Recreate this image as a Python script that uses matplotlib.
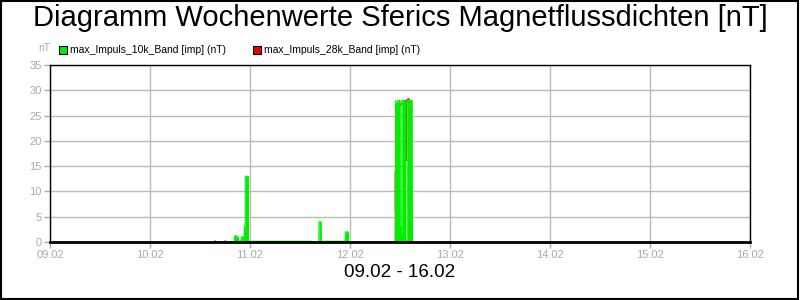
import matplotlib
matplotlib.use("Agg")
import matplotlib.pyplot as plt
from matplotlib.patches import Rectangle

plt.rcParams['font.family'] = ['Liberation Sans', 'DejaVu Sans']

title = "Diagramm Wochenwerte Sferics Magnetflussdichten [nT]"
xlabel = "09.02 - 16.02"
tick_labels = ["09.02", "10.02", "11.02", "12.02", "13.02", "14.02", "15.02", "16.02"]
series_names = ["max_Impuls_10k_Band [imp] (nT)", "max_Impuls_28k_Band [imp] (nT)"]

# time in days since 09.02 00:00
green_t = [1.650, 1.651, 1.655, 1.750, 1.751, 1.755,
           1.843, 1.844, 1.860, 1.870, 1.883, 1.884,
           1.910, 1.911, 1.933, 1.934, 1.943, 1.944, 1.952, 1.953, 1.983, 1.984,
           2.610, 2.611, 2.689, 2.690, 2.710, 2.711,
           2.950, 2.953, 2.983, 2.984,
           3.454, 3.455, 3.457, 3.470, 3.480, 3.490, 3.500, 3.501, 3.510, 3.518,
           3.519, 3.535, 3.553, 3.554, 3.565, 3.571, 3.572, 3.590, 3.605, 3.620, 3.621]
green_v = [0.0, 0.3, 0.0, 0.0, 0.3, 0.0,
           0.0, 1.1, 1.3, 1.0, 1.0, 0.2,
           0.2, 1.0, 1.0, 0.2, 0.2, 3.0, 0.3, 13.0, 13.0, 0.15,
           0.15, 0.0, 0.0, 4.0, 4.0, 0.15,
           0.15, 2.0, 2.0, 0.0,
           0.0, 6.0, 28.0, 27.0, 28.0, 28.0, 28.0, 2.0, 3.0, 1.0,
           28.0, 28.0, 28.0, 0.3, 0.5, 0.5, 28.0, 28.0, 28.0, 28.0, 0.0]

red_t = [3.450, 3.454, 3.455, 3.456, 3.457, 3.500, 3.554, 3.560, 3.562, 3.570, 3.580, 3.590, 3.600, 3.621]
red_v = [0.0, 0.0, 14.0, 6.0, 27.0, 27.0, 28.0, 16.0, 28.0, 28.0, 28.3, 28.3, 27.5, 0.0]

fig = plt.figure(figsize=(8, 3), dpi=100)
fig.patch.set_facecolor('white')
fig.add_artist(Rectangle((0.001, 0.002), 0.997, 0.995, transform=fig.transFigure,
                         fill=False, edgecolor='black', linewidth=1.5))

ax = fig.add_axes([0.0625, 0.1933, 0.875, 0.59])
ax.plot(red_t, red_v, color='#dd2222', lw=1.0, zorder=2)
ax.fill_between(green_t, green_v, 0, color='#00ee00', lw=0, zorder=3)
ax.plot(green_t, green_v, color='#00ee00', lw=0.8, zorder=3)

ax.set_xlim(0, 7)
ax.set_ylim(0, 35)
ax.set_xticks(range(len(tick_labels)))
ax.set_xticklabels(tick_labels)
ax.set_yticks(range(0, 36, 5))
ax.grid(True, color='#bbbbbb', lw=1.0, zorder=0)
ax.set_axisbelow(True)
for s in ax.spines.values():
    s.set_color('black')
    s.set_linewidth(1.0)
    s.set_zorder(5)
ax.spines['bottom'].set_linewidth(2.0)
ax.tick_params(axis='both', colors='#aaaaaa', labelcolor='#aaaaaa', labelsize=8,
               length=4, width=1)
ax.tick_params(axis='x', pad=1.5)
ax.tick_params(axis='y', pad=2)

fig.text(0.5, 0.94, title, ha='center', va='center', fontsize=21, color='black')
fig.text(0.5, 0.092, xlabel, ha='center', va='center', fontsize=13.5, color='black')
fig.text(0.055, 0.84, "nT", ha='center', va='center', fontsize=7.5, color='#aaaaaa')

# legend
leg_items = [(0.074, '#00ee00', series_names[0]), (0.316, '#ee0000', series_names[1])]
for x0, col, name in leg_items:
    fig.add_artist(Rectangle((x0, 0.82), 0.010, 0.027, transform=fig.transFigure,
                             facecolor=col, edgecolor='black', linewidth=0.8))
    fig.text(x0 + 0.014, 0.8335, name, ha='left', va='center', fontsize=7.5, color='black')

fig.savefig('out.png', dpi=100)
